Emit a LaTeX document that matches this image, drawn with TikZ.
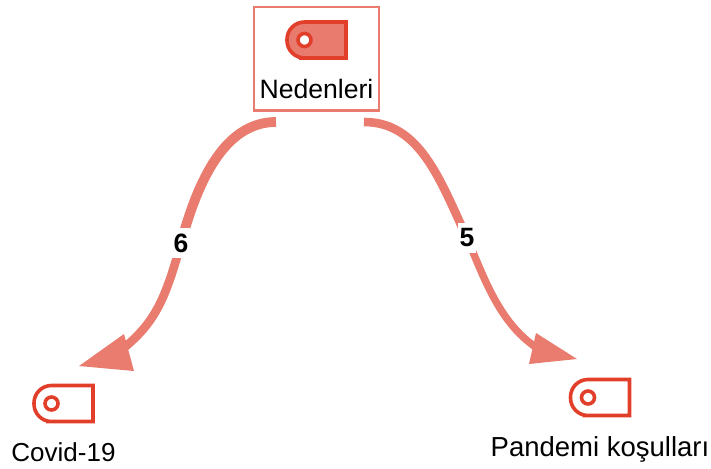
\documentclass[tikz,border=0pt]{standalone}
\usepackage{fontspec}
\setmainfont{Liberation Sans}
\usetikzlibrary{positioning}
\definecolor{tagred}{HTML}{E23F2B}
\definecolor{tagfill}{HTML}{E87B6D}
\definecolor{linkred}{HTML}{E97C6E}
\tikzset{
	tagicon/.pic={
		\draw[draw=tagred,line width=3.6pt,pic actions] [rounded corners=17.5pt] (0,-18) -- (-29.5,-18) -- (-29.5,18) -- (0,18) [sharp corners] -- (29.5,18) -- (29.5,-18) -- cycle;
		\draw[draw=tagred,line width=3.6pt,fill=white] (-12,0) circle (6.5pt);
		\coordinate (-c) at (0,0);
	}
}
\begin{document}
\begin{tikzpicture}[x=1pt,y=-1pt,
				title/.style={inner sep=0pt,font=\fontsize{#1}{#1}\selectfont,text height=19pt,text depth=0pt},
				picked/.style={draw=linkred,line width=2pt,minimum width=125pt,minimum height=103pt,inner sep=0pt},
				link/.style={draw=linkred,line cap=butt},
				tip/.style={fill=linkred},
				weight/.style={fill=white,inner sep=0pt,minimum width=18pt,minimum height=30pt,font=\fontsize{26.5}{26.5}\selectfont\bfseries}]
				\useasboundingbox (0,0) rectangle (711,468);
				\node (NED) [picked] at (316,59) {};
				\pic[fill=tagfill] (NEDICON) at (316.5,40) {tagicon};
				\node (NEDTXT) [title=26.6,below=39.5pt of NEDICON-c] {Nedenleri};
				\pic (COVIDICON) at (63.5,403.5) {tagicon};
				\node (COVIDTXT) [title=26,below=39pt of COVIDICON-c] {Covid-19};
				\pic (PANICON) at (600,397.5) {tagicon};
				\node (PANTXT) [title=27.5,below=39.5pt of PANICON-c] {Pandemi koşulları};

				\coordinate (LEFT)  at (276,122);
				\coordinate (RIGHT) at (364,122);
				\coordinate (MID6)  at (181,243);
				\coordinate (MID5)  at (467,238);
				\coordinate (END6)  at (116,354);
				\coordinate (END5)  at (540,350);

				\draw[link,line width=9.8pt] (LEFT) .. controls (225,122) and (198,180) .. (MID6);
				\draw[link,line width=8.6pt] (MID6) .. controls (165,300) and (155,325) .. (END6);
				\fill[tip] (79,366) -- (124,334) -- (134,371) -- cycle;
				\draw[link,line width=8.6pt] (RIGHT) .. controls (420,122) and (440,180) .. (MID5);
				\draw[link,line width=7.4pt] (MID5) .. controls (485,280) and (500,325) .. (END5);
				\fill[tip] (536,333) -- (577,359) -- (529,364) -- cycle;
				\node (LAB6) [weight] at (MID6) {6};
				\node (LAB5) [weight] at (MID5) {5};
			\end{tikzpicture}
\end{document}
